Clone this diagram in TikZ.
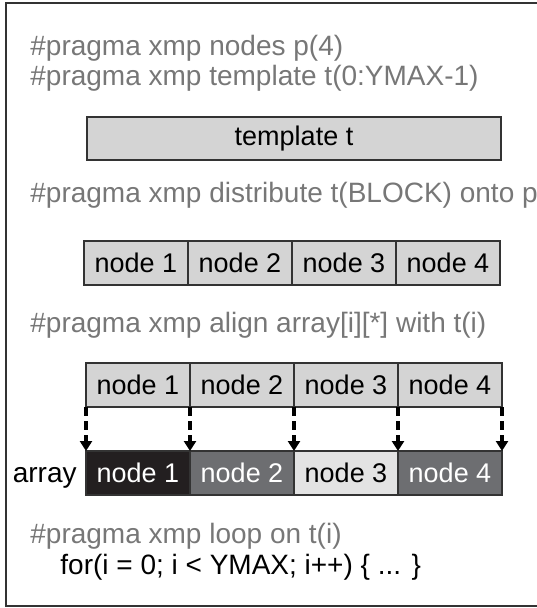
\documentclass[tikz,border=0pt]{standalone}
\usepackage{fontspec}
\setmainfont{Liberation Sans}
\usepackage{xcolor}
\usetikzlibrary{positioning,arrows.meta}

\definecolor{codegray}{HTML}{777777}
\definecolor{cellgray}{HTML}{D4D4D4}
\definecolor{edgegray}{HTML}{333333}
\definecolor{arrblack}{HTML}{231F20}
\definecolor{arrdark}{HTML}{6D6E71}
\definecolor{arrlight}{HTML}{E3E3E3}

\tikzset{
  pragma/.style={anchor=base west, inner sep=0pt, text=codegray, font=\fontsize{14}{16}\selectfont},
  cell/.style={draw=edgegray, line width=0.6pt, fill=cellgray, outer sep=0pt, inner sep=0pt,
    minimum width=52pt, minimum height=22pt, font=\fontsize{13.5}{16}\selectfont},
  tmplbox/.style={cell, minimum width=207pt, minimum height=21.5pt, anchor=north west},
  mapto/.style={line width=1.6pt, dash pattern=on 4.5pt off 2.5pt, -{Triangle[width=6pt,length=5pt]}},
}

\begin{document}
\begin{tikzpicture}[x=0.5pt,y=-0.5pt]
  \useasboundingbox (0,0) rectangle (536,608);
  % frame (open to the right)
  \draw[edgegray, line width=0.9pt] (540,3) -- (6,3) -- (6,606) -- (540,606);

  \node[pragma] (nodesline) at (30,56) {\#pragma xmp nodes p(4)};
  \node[pragma] (tmplline) at (30,86) {\#pragma xmp template t(0:YMAX-1)};
  \node[tmplbox] (tmpl) at (87,117) {template t};

  \node[pragma] (distline) at (30,203) {\#pragma xmp distribute t(BLOCK) onto p};
  \node[cell, anchor=north west] (p1) at (84,241) {node 1};
  \node[cell, right=0pt of p1] (p2) {node 2};
  \node[cell, right=0pt of p2] (p3) {node 3};
  \node[cell, right=0pt of p3] (p4) {node 4};

  \node[pragma] (alignline) at (30,332) {\#pragma xmp align array[i][*] with t(i)};
  \node[cell, anchor=north west] (q1) at (86,363) {node 1};
  \node[cell, right=0pt of q1] (q2) {node 2};
  \node[cell, right=0pt of q2] (q3) {node 3};
  \node[cell, right=0pt of q3] (q4) {node 4};

  % distributed array
  \node[cell, anchor=north west, fill=arrblack, text=white] (a1) at (86,451) {node 1};
  \node[cell, right=0pt of a1, fill=arrdark, text=white] (a2) {node 2};
  \node[cell, right=0pt of a2, fill=arrlight] (a3) {node 3};
  \node[cell, right=0pt of a3, fill=arrdark, text=white] (a4) {node 4};
  \node[anchor=base east, inner sep=0pt, font=\fontsize{14}{16}\selectfont] (arraylbl)
    at ([xshift=-4.5pt]a1.base west) {array};

  \draw[mapto] (q1.south west) -- (a1.north west);
  \draw[mapto] (q2.south west) -- (a2.north west);
  \draw[mapto] (q3.south west) -- (a3.north west);
  \draw[mapto] (q4.south west) -- (a4.north west);
  \draw[mapto] (q4.south east) -- (a4.north east);

  \node[pragma] (loopline) at (30,543) {\#pragma xmp loop on t(i)};
  \node[pragma, text=black] (forline) at (60,574) {for(i = 0; i < YMAX; i++) \{ ... \}};
\end{tikzpicture}
\end{document}
